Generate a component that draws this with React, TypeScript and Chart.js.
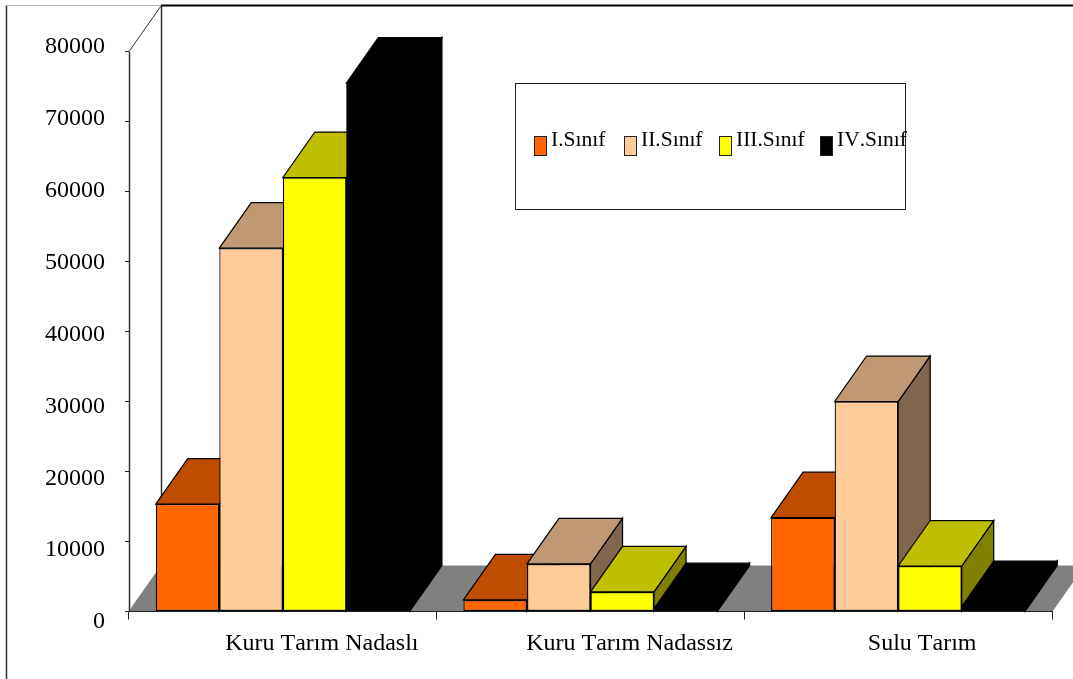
import React, { useEffect, useRef } from "react";
import { Chart, registerables } from "chart.js";

Chart.register(...registerables);

const categories = ["Kuru Tarım Nadaslı", "Kuru Tarım Nadassız", "Sulu Tarım"];
const categoryLeadingSpaces = [13, 13, 8];
const seriesNames = ["I.Sınıf", "II.Sınıf", "III.Sınıf", "IV.Sınıf"];
const sinif1 = [15350, 1650, 13400];
const sinif2 = [51900, 6800, 30000];
const sinif3 = [62000, 2800, 6500];
const sinif4 = [75500, 400, 700];
const yTickValues = [0, 10000, 20000, 30000, 40000, 50000, 60000, 70000, 80000];

const frontColors = ["#FF6600", "#FFCC99", "#FFFF00", "#000000"];
const topColors = ["#BF4D00", "#BF9973", "#BFBF00", "#000000"];
const sideColors = ["#803300", "#80664D", "#808000", "#000000"];

const FONT = '"Liberation Serif", "Times New Roman", serif';
const LINE = "#222222";
const DEPTH_X = 32;
const DEPTH_Y = 45.5;

const legendBox = { x: 515.5, y: 83.5, w: 390, h: 126 };
const legendSwatchX = [534.5, 624.5, 719.5, 820.5];
const legendTextX = [551, 641, 736, 837];

function poly(ctx: CanvasRenderingContext2D, pts: number[][], fill: string, stroke: string, w = 1) {
  ctx.beginPath();
  pts.forEach(([x, y], i) => (i ? ctx.lineTo(x, y) : ctx.moveTo(x, y)));
  ctx.closePath();
  ctx.fillStyle = fill;
  ctx.fill();
  ctx.strokeStyle = stroke;
  ctx.lineWidth = w;
  ctx.stroke();
}

function seg(ctx: CanvasRenderingContext2D, x1: number, y1: number, x2: number, y2: number, color: string, w = 1) {
  ctx.beginPath();
  ctx.moveTo(x1, y1);
  ctx.lineTo(x2, y2);
  ctx.strokeStyle = color;
  ctx.lineWidth = w;
  ctx.stroke();
}

// Back walls, floor and outer frame sit underneath the axes.
const roomPlugin = {
  id: "room",
  beforeDraw(chart: any) {
    const { ctx, chartArea, scales } = chart;
    // Kerning stays off for every label drawn on this canvas.
    ctx.fontKerning = "none";
    const y0 = scales.y.getPixelForValue(0);
    const yMax = scales.y.getPixelForValue(80000);
    const left = chartArea.left;
    const right = chartArea.right;
    ctx.save();
    poly(
      ctx,
      [
        [left, y0],
        [right, y0],
        [right + DEPTH_X, y0 - DEPTH_Y],
        [left + DEPTH_X, y0 - DEPTH_Y],
      ],
      "#808080",
      "#808080"
    );
    seg(ctx, 6.5, 5, 6.5, 679, "#333333", 1.5);
    seg(ctx, 6, 5.5, left + DEPTH_X, 5.5, "#BBBBBB");
    seg(ctx, left + DEPTH_X, 5.5, 1073, 5.5, "#000000", 2);
    seg(ctx, left + DEPTH_X + 0.5, 6, left + DEPTH_X + 0.5, y0 - DEPTH_Y, "#333333", 1.5);
    seg(ctx, left, yMax, left + DEPTH_X, yMax - DEPTH_Y, "#333333");
    seg(ctx, left + 0.5, yMax, left + 0.5, y0, "#333333", 1.5);
    ctx.restore();
  },
};

// Top and side faces of each bar, painted left to right before the front faces.
const extrusionPlugin = {
  id: "extrusion",
  beforeDatasetsDraw(chart: any) {
    const { ctx } = chart;
    ctx.save();
    categories.forEach((_, c) => {
      chart.data.datasets.forEach((_ds: any, d: number) => {
        const bar = chart.getDatasetMeta(d).data[c];
        const l = bar.x - bar.width / 2;
        const r = bar.x + bar.width / 2;
        const t = bar.y;
        const b = bar.base;
        poly(
          ctx,
          [
            [r, t],
            [r + DEPTH_X, t - DEPTH_Y],
            [r + DEPTH_X, b - DEPTH_Y],
            [r, b],
          ],
          sideColors[d],
          "#000000",
          1.25
        );
        poly(
          ctx,
          [
            [l, t],
            [l + DEPTH_X, t - DEPTH_Y],
            [r + DEPTH_X, t - DEPTH_Y],
            [r, t],
          ],
          topColors[d],
          "#000000",
          1.25
        );
      });
    });
    ctx.restore();
  },
};

// Framed key listing the series by name and swatch colour.
const keyPlugin = {
  id: "key",
  afterDraw(chart: any) {
    const { ctx } = chart;
    ctx.save();
    ctx.strokeStyle = LINE;
    ctx.lineWidth = 1;
    ctx.fillStyle = "#FFFFFF";
    ctx.fillRect(legendBox.x, legendBox.y, legendBox.w, legendBox.h);
    ctx.strokeRect(legendBox.x, legendBox.y, legendBox.w, legendBox.h);
    ctx.font = `21.5px ${FONT}`;
    ctx.textBaseline = "middle";
    ctx.textAlign = "left";
    chart.data.datasets.forEach((ds: any, i: number) => {
      ctx.fillStyle = ds.backgroundColor;
      ctx.fillRect(legendSwatchX[i], 136.5, 12, 19);
      ctx.strokeRect(legendSwatchX[i], 136.5, 12, 19);
      ctx.fillStyle = "#000000";
      ctx.fillText(ds.label, legendTextX[i], 140.5);
    });
    ctx.restore();
  },
};

export default function App() {
  const ref = useRef<HTMLCanvasElement>(null);

  useEffect(() => {
    const series = [sinif1, sinif2, sinif3, sinif4];
    const setTicks = (scale: any) => {
      scale.ticks = yTickValues.map((value) => ({ value }));
    };
    const chart = new Chart(ref.current as HTMLCanvasElement, {
      type: "bar",
      data: {
        labels: categories,
        datasets: series.map((values, i) => ({
          label: seriesNames[i],
          data: values,
          backgroundColor: frontColors[i],
          borderColor: "#000000",
          borderWidth: i === 3 ? 0 : 1.25,
          borderSkipped: false,
          categoryPercentage: 0.826,
          barPercentage: 1,
          yAxisID: "y",
        })),
      },
      options: {
        responsive: false,
        animation: false,
        layout: { padding: { left: 0, right: 21, top: 40, bottom: 0 } },
        plugins: { legend: { display: false }, title: { display: false }, tooltip: { enabled: false } },
        scales: {
          x: {
            afterFit: (s: any) => {
              s.height = 67.5;
            },
            border: { display: true, color: LINE, width: 1 },
            grid: { display: true, drawOnChartArea: false, drawTicks: true, tickLength: 8, color: LINE, offset: true },
            ticks: {
              autoSkip: false,
              maxRotation: 0,
              minRotation: 0,
              padding: 10,
              color: "#000000",
              font: { family: FONT, size: 24 },
              callback: (_v: any, i: number) => " ".repeat(categoryLeadingSpaces[i]) + categories[i],
            },
          },
          // Carries the tick marks; the bars are measured against this axis.
          y: {
            type: "linear",
            position: "left",
            weight: 0,
            min: 0,
            max: 81643,
            afterBuildTicks: setTicks,
            afterFit: (s: any) => {
              s.width = 4;
            },
            border: { display: false },
            grid: { display: true, drawOnChartArea: false, drawTicks: true, tickLength: 4, color: LINE },
            ticks: { display: false },
          },
          // Carries the value labels, which run on a slightly wider spacing than the tick marks.
          yLabels: {
            type: "linear",
            position: "left",
            weight: 1,
            min: 1461,
            max: 80974,
            afterBuildTicks: setTicks,
            afterFit: (s: any) => {
              s.width = 125;
            },
            border: { display: false },
            grid: { display: false },
            ticks: {
              padding: 12,
              color: "#000000",
              font: { family: FONT, size: 24 },
              callback: (v: any) => String(v),
            },
          },
        },
      } as any,
      plugins: [roomPlugin, extrusionPlugin, keyPlugin],
    });
    return () => chart.destroy();
  }, []);

  return (
    <canvas
      ref={ref}
      width={1073}
      height={679}
      style={{ position: "fixed", left: 0, top: 0, width: 1073, height: 679, display: "block" }}
    />
  );
}
